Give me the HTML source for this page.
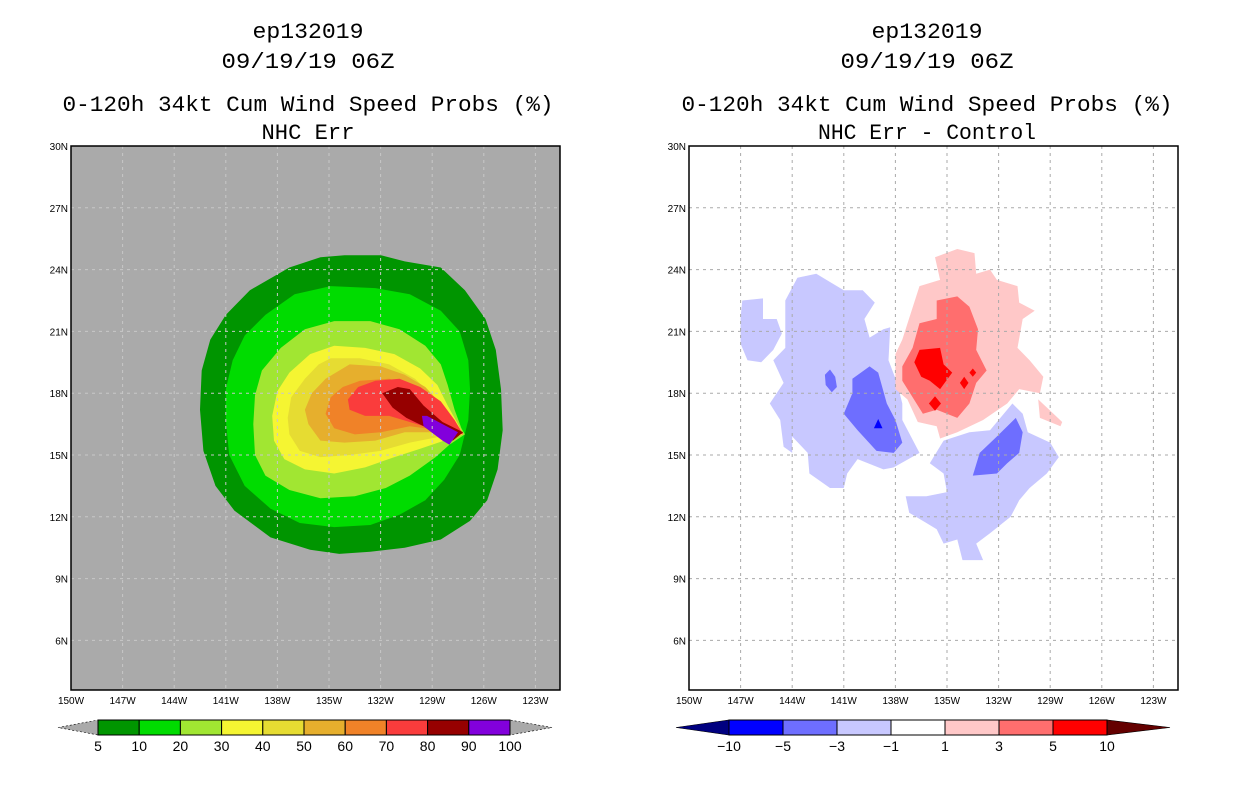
<!DOCTYPE html>
<html><head><meta charset="utf-8">
<style>
html,body{margin:0;padding:0;background:#fff;width:1236px;height:800px;overflow:hidden}
svg{display:block}
text{font-family:"Liberation Sans",sans-serif}
text.ttl{font-family:"Liberation Mono",monospace}
</style></head>
<body>
<svg id="chart" width="1236" height="800" viewBox="0 0 1236 800" xmlns="http://www.w3.org/2000/svg"></svg>
<script>
// ---- data ----
const lonTicks=[150,147,144,141,138,135,132,129,126,123];
const latTicks=[30,27,24,21,18,15,12,9,6];
const leftLevels=[5,10,20,30,40,50,60,70,80,90,100];
const leftColors=["#009500","#00dc00","#a1e632","#f5f532","#e6dc32","#e6af2d","#f08228","#fa3c3c","#960000","#8200dc"];
const rightLevels=[-10,-5,-3,-1,1,3,5,10];
const rightColors=["#0000ff","#6e6eff","#c8c8ff","#ffffff","#ffc8c8","#ff6e6e","#ff0000"];
const c5=[[134.1,24.7],[132,24.7],[130.6,24.4],[128.5,24.1],[127.1,23],[125.9,21.6],[125.3,20.1],[125,18.2],[124.9,16.2],[125.2,14.3],[125.8,12.8],[126.8,11.8],[128.5,10.9],[130.6,10.5],[132.6,10.3],[134.4,10.2],[136.1,10.4],[138.4,11],[140.5,12.3],[141.6,13.5],[142.3,15.2],[142.5,17.2],[142.4,19.1],[141.9,20.6],[141,21.8],[139.6,23],[137.3,24.1],[135.5,24.6]];
const c10=[[134.9,23.2],[132.3,23.1],[130.3,22.8],[128.5,22],[127.4,21],[126.9,19.6],[126.8,18.2],[126.9,16.7],[127.4,15],[128.3,13.8],[129.4,12.8],[130.9,12.1],[132.6,11.6],[134.7,11.5],[136.7,11.7],[138.4,12.4],[139.9,13.5],[140.8,15],[141,16.7],[141,18.2],[140.6,19.6],[139.9,20.8],[138.7,21.8],[137,22.8]];
const c20=[[134.7,21.5],[132.6,21.5],[130.9,21.1],[129.4,20.3],[128.5,19.4],[128.1,18.4],[127.7,17.2],[127.3,16.3],[127.1,16],[128,15.5],[128.8,14.9],[130.3,14],[131.7,13.4],[133.5,13],[135.5,12.9],[137.3,13.3],[138.7,14],[139.3,15],[139.4,16.5],[139.3,17.9],[138.9,19.1],[137.8,20.2],[136.4,21.1]];
const c30=[[134.7,20.3],[132.9,20.2],[131.2,19.9],[129.7,19.2],[128.7,18.4],[128.1,17.4],[127.5,16.5],[127.2,16],[128.3,15.7],[129.7,15.3],[131.2,14.9],[132.9,14.4],[134.7,14.1],[136.4,14.3],[137.6,14.8],[138.2,15.7],[138.3,16.9],[138,18.1],[137.3,19],[136.1,19.9]];
const c40=[[134.9,19.7],[133.2,19.7],[131.5,19.4],[130,18.7],[129,17.9],[128.1,17],[127.4,16.2],[127.3,16],[128.5,15.9],[130.3,15.6],[132,15.2],[133.8,15],[135.5,14.9],[136.7,15.2],[137.3,16],[137.4,16.8],[137.2,17.8],[136.4,18.7],[135.6,19.4]];
const c50=[[133.8,19.4],[132,19.3],[130.6,18.9],[129.4,18.3],[128.3,17.3],[127.4,16.3],[127.3,16],[128.8,16.1],[130.6,16.1],[132.3,15.7],[134.1,15.6],[135.5,15.7],[136.2,16.5],[136.4,17.2],[136,18],[135.2,18.7]];
const c60=[[133.2,18.6],[131.5,18.7],[130,18.3],[128.8,17.6],[128,16.7],[127.3,16],[128.5,16.2],[130.3,16.4],[132,16.1],[133.5,16],[134.7,16.3],[135.2,17],[134.9,17.8],[134.2,18.3]];
const c70=[[133.9,17.7],[133.3,18.3],[132.3,18.6],[130.9,18.7],[129.7,18.3],[128.5,17.6],[127.7,16.7],[127.2,16],[128,16.1],[129.1,16.3],[130.3,16.6],[131.5,16.9],[132.9,16.9],[133.8,17.2]];
const c80=[[131.9,18],[131,18.3],[130.3,18.2],[129.5,17.4],[128.4,16.6],[127.2,16.1],[127.8,15.7],[128.7,15.9],[129.5,16.4],[130.5,16.8],[131.3,17.3]];
const c90=[[129.6,16.9],[129.3,16.9],[128.4,16.5],[127.5,16.1],[128,15.5],[128.4,15.7],[129.5,16.4]];
const leftContours=[c5,c10,c20,c30,c40,c50,c60,c70,c80,c90];
const nA=[[143.7,23.6],[142.6,23.8],[141.8,23.4],[141,23],[139.9,23],[139.2,22.4],[139.8,21.6],[139.5,20.7],[138.7,21.1],[138.3,21.2],[138.4,19.6],[137.9,18.5],[137.6,17.5],[137.6,16.7],[136.6,15.1],[138.1,14.4],[138.7,14.3],[140.2,14.8],[140.8,14.1],[141,13.4],[141.8,13.4],[143,14.1],[143.1,15.1],[144,15.9],[144,15.1],[144.5,15.4],[144.7,16.7],[145.3,17.5],[144.5,18.5],[145.1,19.6],[144.4,20.2],[144.4,22.5]];
const nB=[[146.9,22.5],[145.7,22.6],[145.7,21.6],[144.9,21.6],[144.6,20.9],[145.1,20.1],[145.8,19.5],[146.6,19.6],[147,20.4],[147,21.7]];
const nC=[[135.2,15.7],[133.7,16.1],[132.5,16.2],[131.2,17.5],[130.6,17],[130.3,16.1],[129,15.6],[128.5,14.9],[129.2,14.1],[130.2,13.4],[130.8,12.8],[131.3,12],[132.5,11.2],[133.3,10.7],[132.9,9.9],[134.1,9.9],[134.4,10.9],[135.2,10.7],[135.6,11.4],[136.2,11.7],[137.2,12.2],[137.4,13],[136.2,13],[135,13.2],[135.2,14.1],[136,14.6]];
const nD=[[140.5,18.7],[139.5,19.3],[139,19],[138.5,17.5],[138,16.7],[137.6,15.6],[138.1,15.1],[139.1,15.2],[140.2,16.2],[141,17],[140.5,18]];
const nE=[[131,16.8],[130.6,16.1],[130.8,15.1],[131.5,14.6],[132.1,14.1],[133.5,14],[133.1,15.1],[132.1,15.9]];
const nF=[[141.8,19.15],[141.5,18.8],[141.4,18.3],[141.7,18.05],[142.05,18.4],[142.1,18.9]];
const nG=[[139,16.75],[138.75,16.3],[139.25,16.3]];
const pA=[[135.7,24.6],[134.4,25],[133.4,24.8],[133.3,23.8],[132.5,24],[132.1,23.5],[130.9,23.2],[130.8,22.4],[129.9,22],[130.6,21.6],[130.9,20.2],[130.2,19.6],[129.4,18.8],[129.6,18],[130.8,18.2],[131.5,17.5],[132.9,16.7],[134.4,16.1],[135.4,15.8],[135.6,16.4],[136.7,16.6],[137.3,17.7],[138,18.2],[138,19.9],[137.6,20.6],[136.6,23.2],[135.4,23.5]];
const pB=[[129.7,17.7],[128.3,16.6],[128.4,16.4],[129.6,16.8]];
const pC=[[135.6,22.5],[134.4,22.7],[133.7,22.2],[133.2,21.1],[133.3,20.1],[132.7,19.1],[133.3,18.5],[133.7,17.5],[134.4,16.8],[135.6,17.2],[136.4,17],[137,17.8],[137.6,18.6],[137.6,19.3],[137,20.2],[136.6,21.4],[135.6,21.6]];
const pD=[[136.6,20.1],[135.4,20.2],[135.2,19.4],[134.7,19],[135.4,18.2],[136,18.6],[136.5,18.8],[136.9,19.5]];
const pE=[[135.7,17.85],[135.35,17.5],[135.7,17.15],[136.05,17.5]];
const pF=[[134,18.8],[133.75,18.5],[134,18.2],[134.25,18.5]];
const pG=[[133.5,19.2],[133.3,19],[133.5,18.8],[133.7,19]];
const rightContours=[[2,nA],[2,nB],[2,nC],[1,nD],[1,nE],[1,nF],[0,nG],[4,pA],[4,pB],[5,pC],[6,pD],[6,pE],[6,pF],[6,pG]];

// ---- drawing ----
const NS="http://www.w3.org/2000/svg";
const svg=document.getElementById('chart');
function mk(tag,attrs,parent){const e=document.createElementNS(NS,tag);for(const k in attrs)e.setAttribute(k,attrs[k]);(parent||svg).appendChild(e);return e;}
const PX=17.2, PY=20.6, TOP=146, BOT=690, W=489;
function xs(x0,lon){return x0+(150-lon)*PX;}
function ys(lat){return TOP+(30-lat)*PY;}
function pts(x0,poly){return poly.map(p=>xs(x0,p[0]).toFixed(1)+","+ys(p[1]).toFixed(1)).join(" ");}

function title(cx,lines,widths,prefix){
  const ys_=[38,68,111,139];
  lines.forEach((t,i)=>{
    const e=mk('text',{x:cx,y:ys_[i],'text-anchor':'middle','font-size':22,fill:'#000',class:'ttl',textLength:widths[i],lengthAdjust:'spacingAndGlyphs'});
    
    
    e.textContent=t;
  });
}

function panel(x0,bg,contours,name,gridColor){
  const g=mk('g',{});
  
  
  const r=mk('rect',{x:x0,y:TOP,width:W,height:BOT-TOP,fill:bg},g);
  
  
  contours.forEach((c,i)=>{
    const p=mk('polygon',{points:pts(x0,c.poly),fill:c.color},g);
    
    
  });
  lonTicks.forEach(l=>{
    const x=xs(x0,l);
    if(l<150){const ln=mk('line',{x1:x,y1:TOP,x2:x,y2:BOT,stroke:gridColor,'stroke-width':1,'stroke-dasharray':'3,4'},g);
      }
    const t=mk('text',{x:x,y:BOT+14,'text-anchor':'middle','font-size':10,fill:'#000'});
    
    
    t.textContent=l+'W';
  });
  latTicks.forEach(l=>{
    const y=ys(l);
    if(l<30){const ln=mk('line',{x1:x0,y1:y,x2:x0+W,y2:y,stroke:gridColor,'stroke-width':1,'stroke-dasharray':'3,4'},g);
      }
    const t=mk('text',{x:x0-3,y:y+4,'text-anchor':'end','font-size':10,fill:'#000'});
    
    
    t.textContent=l+'N';
  });
  const f=mk('rect',{x:x0,y:TOP,width:W,height:BOT-TOP,fill:'none',stroke:'#000','stroke-width':1.5},g);
  
  
}

function colorbar(x1,x2,tL,tR,levels,colors,loColor,hiColor,name){
  const y1=720,y2=735,ym=727.5,n=colors.length,w=(x2-x1)/n;
  const lt=mk('polygon',{points:`${tL},${ym} ${x1},${y1} ${x1},${y2}`,fill:loColor,stroke:'#000','stroke-width':0.6,'stroke-dasharray':loColor=='#aaaaaa'?'2,2':'none'});
  
  const rt=mk('polygon',{points:`${tR},${ym} ${x2},${y1} ${x2},${y2}`,fill:hiColor,stroke:'#000','stroke-width':0.6,'stroke-dasharray':hiColor=='#aaaaaa'?'2,2':'none'});
  
  colors.forEach((c,i)=>{
    const r=mk('rect',{x:x1+i*w,y:y1,width:w,height:y2-y1,fill:c,stroke:'#000','stroke-width':1});
    
    
  });
  levels.forEach((v,i)=>{
    const t=mk('text',{x:x1+i*w,y:751,'text-anchor':'middle','font-size':14,fill:'#000'});
    
    
    t.textContent=v<0?'\u2212'+(-v):v;
  });
}

title(308,["ep132019","09/19/19 06Z","0-120h 34kt Cum Wind Speed Probs (%)","NHC Err"],[111,173,491,93],'left');
title(927,["ep132019","09/19/19 06Z","0-120h 34kt Cum Wind Speed Probs (%)","NHC Err - Control"],[111,173,491,218],'right');
panel(71,'#aaaaaa',leftContours.map((p,i)=>({poly:p,color:leftColors[i]})),'left',"#c8c8c8");
panel(689,'#ffffff',rightContours.map(c=>({poly:c[1],color:rightColors[c[0]]})),'right',"#aaaaaa");
colorbar(98,510,58,552,leftLevels,leftColors,'#aaaaaa','#aaaaaa','left-colorbar');
colorbar(729,1107,676,1170,rightLevels,rightColors,'#000080','#640000','right-colorbar');
</script>
</body></html>
